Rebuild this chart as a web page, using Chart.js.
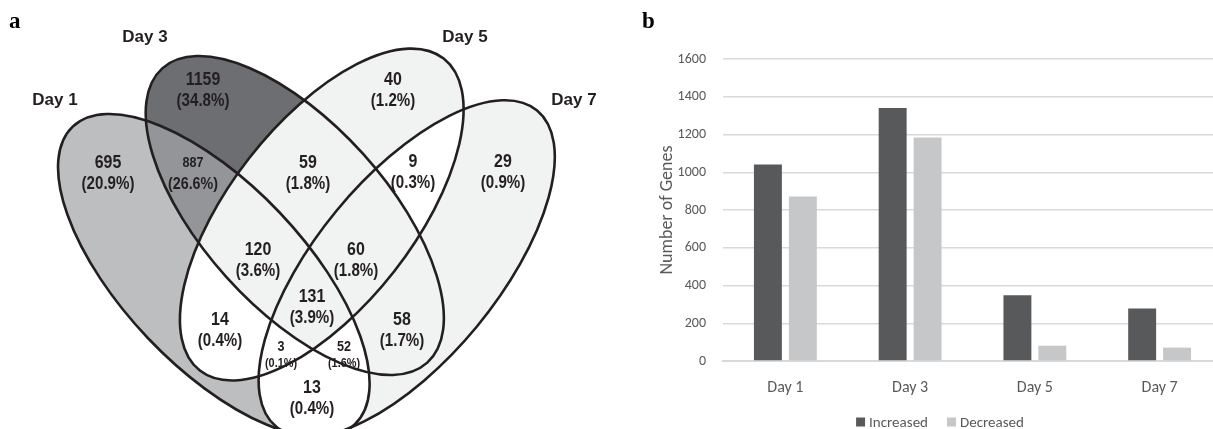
<!DOCTYPE html>
<html><head><meta charset="utf-8">
<script src="https://cdn.jsdelivr.net/npm/chart.js@4/dist/chart.umd.min.js"></script>
<style>
html,body{margin:0;padding:0;background:#fff;overflow:hidden}
#wrap{position:relative;width:1213px;height:429px;overflow:hidden;background:#fff}
#venn{position:absolute;left:0;top:0}
#bars{position:absolute;left:640px;top:0}
.pl{position:absolute;font:bold 23px "Liberation Serif","Times New Roman",serif;color:#000;line-height:1}
</style></head><body>
<div id="wrap">
<canvas id="venn" width="600" height="429"></canvas>
<canvas id="bars" width="600" height="429"></canvas>
<div class="pl" style="left:9px;top:9px">a</div>
<div class="pl" style="left:642px;top:9px">b</div>
</div>
<script>
// ---------- DATA ----------
// Panel a: Venn diagram
const setNames = ['Day 1', 'Day 3', 'Day 5', 'Day 7'];
const regionMembers = [[0],[1],[2],[3],[0,1],[0,2],[0,3],[1,2],[1,3],[2,3],[0,1,2],[0,1,3],[0,2,3],[1,2,3],[0,1,2,3]];
const regionCounts = [695, 1159, 40, 29, 887, 14, 13, 59, 58, 9, 120, 52, 3, 60, 131];
const regionPercents = ['20.9%','34.8%','1.2%','0.9%','26.6%','0.4%','0.4%','1.8%','1.7%','0.3%','3.6%','1.6%','0.1%','1.8%','3.9%'];
// Panel b: bar chart
const categories = ['Day 1', 'Day 3', 'Day 5', 'Day 7'];
const increased = [1041, 1340, 349, 278];
const decreased = [871, 1184, 81, 71];
const yTicks = [0, 200, 400, 600, 800, 1000, 1200, 1400, 1600];

// ---------- LAYOUT / STYLE ----------
// symmetric Venn geometry (outer = Day 1 / Day 7, inner = Day 3 / Day 5), then a small global tilt
const vennGeom = {
  axis: 309.5, tilt: -2, pivot: [310, 250],
  outer: {cx: 213, cy: 272, rx: 205, ry: 91, rot: 48.5},
  inner: {cx: 296, cy: 215, rx: 198, ry: 92, rot: 50}
};
const regionLabelPos = [[108,163],[203,80],[393,80],[503,162],[193,163],[220,320],[312,388],[308,163],[402,320],[413,162],[258,250],[344,347],[281,347],[356,250],[312,297]];
const regionFill = ['#bcbec0','#6d6e71','#f1f2f2','#f1f2f2','#939598','#ffffff','#ffffff','#f1f2f2','#f1f2f2','#ffffff','#f1f2f2','#ffffff','#ffffff','#f1f2f2','#f1f2f2'];
const regionSize = [[19,18],[19,18],[19,18],[19,18],[15,17],[19,18],[19,18],[19,18],[19,18],[19,18],[19,18],[15,13],[15,13],[19,18],[19,18]];
const setLabelPos = [[55,100],[145,37],[465,37],[574,100]];

function buildEllipses(g){
  const o = g.outer, n = g.inner;
  const base = [
    {cx:o.cx, cy:o.cy, rx:o.rx, ry:o.ry, rot:o.rot},
    {cx:n.cx, cy:n.cy, rx:n.rx, ry:n.ry, rot:n.rot},
    {cx:2*g.axis-n.cx, cy:n.cy, rx:n.rx, ry:n.ry, rot:-n.rot},
    {cx:2*g.axis-o.cx, cy:o.cy, rx:o.rx, ry:o.ry, rot:-o.rot}
  ];
  const t = g.tilt*Math.PI/180, cs = Math.cos(t), sn = Math.sin(t);
  return base.map(e => {
    const dx = e.cx-g.pivot[0], dy = e.cy-g.pivot[1];
    return {cx: g.pivot[0]+dx*cs-dy*sn, cy: g.pivot[1]+dx*sn+dy*cs, rx:e.rx, ry:e.ry, rot:e.rot+g.tilt};
  });
}
const ellipses = buildEllipses(vennGeom);

function hasFont(name){
  const c=document.createElement('canvas').getContext('2d');
  c.font='bold 40px monospace'; const a=c.measureText('(20.9%) 1159 Wg').width;
  c.font='bold 40px "'+name+'", monospace'; const b=c.measureText('(20.9%) 1159 Wg').width;
  return Math.abs(a-b)>0.5;
}
const narrow = hasFont('Liberation Sans Narrow');
const numFam = narrow ? '"Liberation Sans Narrow", "Liberation Sans", Arial, sans-serif' : '"Liberation Sans", Arial, sans-serif';
const condense = narrow ? 1.02 : 0.84;

function condText(ctx, text, x, y, size){
  ctx.save();
  ctx.translate(x, y); ctx.scale(condense, 1);
  ctx.font = 'bold ' + size + 'px ' + numFam;
  ctx.fillText(text, 0, 0);
  ctx.restore();
}

const vennPlugin = {
  id: 'vennShapes',
  beforeDatasetsDraw(chart){
    const ctx = chart.ctx, xs = chart.scales.x, ys = chart.scales.y;
    const sx = Math.abs(xs.getPixelForValue(1) - xs.getPixelForValue(0));
    const sy = Math.abs(ys.getPixelForValue(1) - ys.getPixelForValue(0));
    const W = chart.width, H = chart.height;
    const inside = [], outside = [];
    ellipses.forEach(e => {
      const px = xs.getPixelForValue(e.cx), py = ys.getPixelForValue(e.cy);
      const p = new Path2D(); p.ellipse(px, py, e.rx*sx, e.ry*sy, e.rot*Math.PI/180, 0, Math.PI*2);
      inside.push(p);
      const o = new Path2D(); o.rect(-10,-10,W+20,H+20); o.ellipse(px, py, e.rx*sx, e.ry*sy, e.rot*Math.PI/180, 0, Math.PI*2);
      outside.push(o);
    });
    regionMembers.forEach((mem, r) => {
      ctx.save();
      for (let k=0;k<4;k++){
        if (mem.includes(k)) ctx.clip(inside[k]); else ctx.clip(outside[k], 'evenodd');
      }
      ctx.fillStyle = regionFill[r];
      ctx.fillRect(0,0,W,H);
      ctx.restore();
    });
    ctx.save();
    ctx.lineWidth = 2.6; ctx.strokeStyle = '#231f20';
    inside.forEach(p => ctx.stroke(p));
    ctx.restore();
  },
  afterDatasetsDraw(chart){
    const ctx = chart.ctx;
    ctx.save();
    ctx.textAlign = 'center'; ctx.textBaseline = 'middle';
    ctx.fillStyle = '#231f20';
    const m0 = chart.getDatasetMeta(0);
    m0.data.forEach((pt, r) => {
      const [cs, ps] = regionSize[r];
      condText(ctx, String(regionCounts[r]), pt.x, pt.y, cs);
      const dy = (r===11||r===12) ? 16 : 21;
      condText(ctx, '(' + regionPercents[r] + ')', pt.x, pt.y + dy, ps);
    });
    const m1 = chart.getDatasetMeta(1);
    ctx.font = 'bold 17px "Liberation Sans", Arial, sans-serif';
    m1.data.forEach((pt, i) => { ctx.fillText(setNames[i], pt.x, pt.y); });
    ctx.restore();
  }
};

new Chart(document.getElementById('venn'), {
  type: 'scatter',
  data: { datasets: [
    { data: regionLabelPos.map(p => ({x: p[0], y: p[1]})), pointRadius: 0 },
    { data: setLabelPos.map(p => ({x: p[0], y: p[1]})), pointRadius: 0 }
  ]},
  options: {
    responsive: false, animation: false, devicePixelRatio: 1,
    layout: { padding: 0 },
    events: [],
    plugins: { legend: { display: false }, tooltip: { enabled: false } },
    scales: {
      x: { type: 'linear', min: 0, max: 600, display: false },
      y: { type: 'linear', min: 0, max: 429, reverse: true, display: false }
    }
  },
  plugins: [vennPlugin]
});

// ---------- BAR CHART ----------
const uiFont = 'Carlito, Calibri, Lato, "Open Sans", sans-serif';
const textGrey = '#595959';
const legendPlugin = {
  id: 'excelLegend',
  afterDraw(chart){
    const ctx = chart.ctx;
    const ds = chart.data.datasets;
    ctx.save();
    ctx.font = '15px ' + uiFont;
    ctx.textBaseline = 'middle'; ctx.textAlign = 'left';
    const box = 9, gap = 4, spacing = 19;
    const widths = ds.map(d => ctx.measureText(d.label).width);
    const total = widths.reduce((s,w)=>s+box+gap+w,0) + spacing*(ds.length-1);
    let x = chart.width/2 - total/2;
    const y = 422;
    ds.forEach((d,i) => {
      ctx.fillStyle = d.backgroundColor;
      ctx.fillRect(x, y-box/2, box, box);
      ctx.fillStyle = textGrey;
      ctx.fillText(d.label, x+box+gap, y+1);
      x += box+gap+widths[i]+spacing;
    });
    ctx.restore();
  }
};

new Chart(document.getElementById('bars'), {
  type: 'bar',
  data: {
    labels: categories,
    datasets: [
      { label: 'Increased', data: increased, backgroundColor: '#58595b', borderWidth: 0 },
      { label: 'Decreased', data: decreased, backgroundColor: '#c6c7c9', borderWidth: 0 }
    ]
  },
  options: {
    responsive: false, animation: false, devicePixelRatio: 1, events: [],
    layout: { padding: { left: 14, right: 18, top: 59, bottom: 0 } },
    datasets: { bar: { categoryPercentage: 0.56, barPercentage: 0.8 } },
    scales: {
      x: {
        grid: { display: false, drawTicks: false },
        border: { display: true, color: '#d9d9d9', width: 2 },
        ticks: { color: textGrey, font: { family: uiFont, size: 16 }, padding: 17 },
        afterFit(s){ s.height = 68; }
      },
      y: {
        min: 0, max: 1600,
        afterBuildTicks(s){ s.ticks = yTicks.map(v => ({value: v})); },
        ticks: { color: textGrey, font: { family: uiFont, size: 14 }, padding: 17, callback: v => String(v) },
        grid: { color: '#d9d9d9', lineWidth: 1.5, drawTicks: false },
        border: { display: false },
        title: { display: true, text: 'Number of Genes', color: textGrey, font: { family: uiFont, size: 18 }, padding: { top: 3, bottom: 0 } },
        afterFit(s){ s.width = 69; }
      }
    },
    plugins: {
      legend: { display: false },
      tooltip: { enabled: false }
    }
  },
  plugins: [legendPlugin]
});
</script>
</body></html>
